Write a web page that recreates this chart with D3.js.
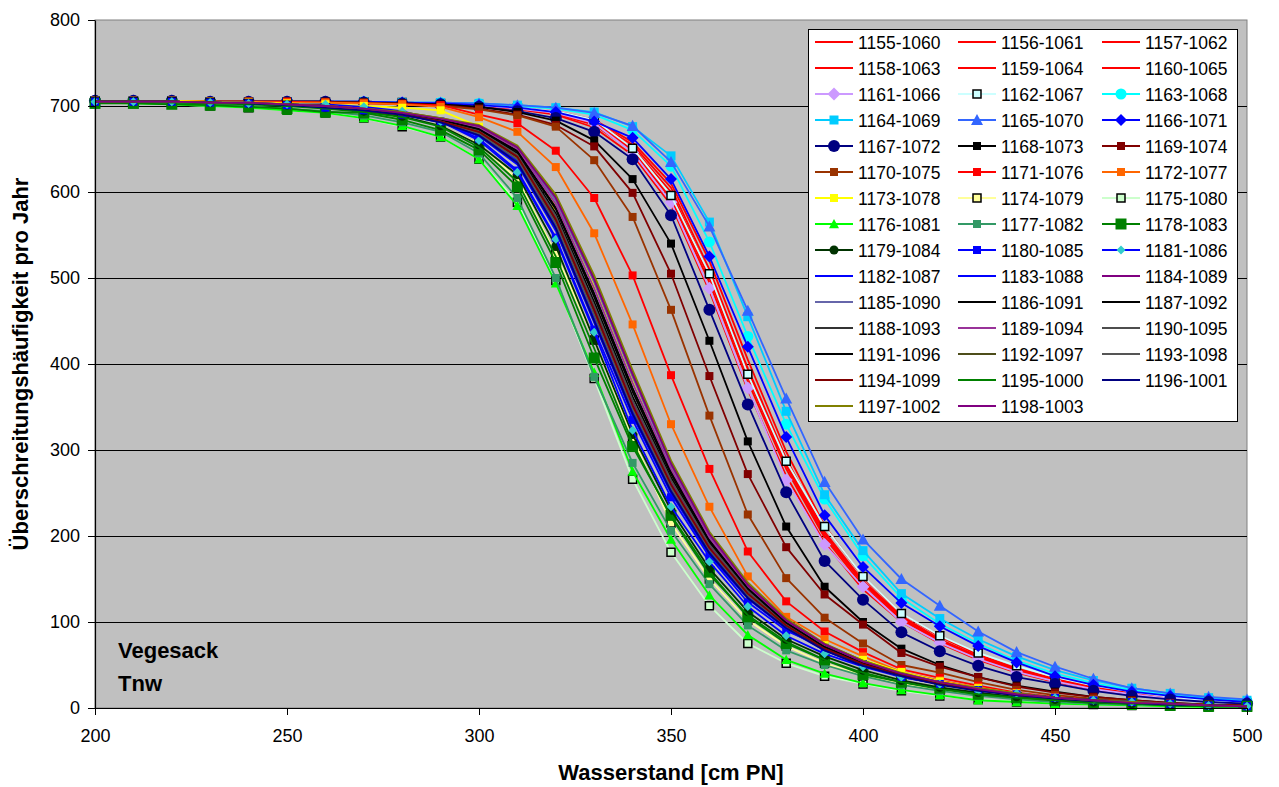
<!DOCTYPE html>
<html>
<head>
<meta charset="utf-8">
<script src="https://cdn.jsdelivr.net/npm/d3@7"></script>
<style>
  body { margin: 0; background: #fff; }
  svg text { font-family: "Liberation Sans", Arial, sans-serif; }
</style>
</head>
<body>
<svg id="chart" width="1279" height="787"></svg>
<script>
// x categories (Wasserstand, cm PN)
const xValues = [200, 210, 220, 230, 240, 250, 260, 270, 280, 290, 300, 310, 320, 330, 340, 350,
  360, 370, 380, 390, 400, 410, 420, 430, 440, 450, 460, 470, 480, 490, 500];
const xTicks = [200, 250, 300, 350, 400, 450, 500];
const yTicks = [0, 100, 200, 300, 400, 500, 600, 700, 800];

const seriesNames = [
  '1155-1060', '1156-1061', '1157-1062', '1158-1063', '1159-1064', '1160-1065',
  '1161-1066', '1162-1067', '1163-1068', '1164-1069', '1165-1070', '1166-1071',
  '1167-1072', '1168-1073', '1169-1074', '1170-1075', '1171-1076', '1172-1077',
  '1173-1078', '1174-1079', '1175-1080', '1176-1081', '1177-1082', '1178-1083',
  '1179-1084', '1180-1085', '1181-1086', '1182-1087', '1183-1088', '1184-1089',
  '1185-1090', '1186-1091', '1187-1092', '1188-1093', '1189-1094', '1190-1095',
  '1191-1096', '1192-1097', '1193-1098', '1194-1099', '1195-1000', '1196-1001',
  '1197-1002', '1198-1003'];

// Überschreitungshäufigkeit pro Jahr, one array per series
const s1155 = [706,706,706,705,705,705,705,705,704,703,701,698,693,682,655,605,510,395,290,205,148,107,80,60,45,33,24,17,12,9,6];
const s1156 = [706,706,706,705,705,705,705,705,704,703,700,697,691,678,648,592,495,380,278,198,142,103,77,58,43,31,23,16,11,8,5];
const s1157 = [706,706,706,705,705,705,705,705,704,703,701,698,693,681,652,600,505,392,285,203,146,106,79,60,44,32,24,17,12,9,6];
const s1158 = [706,706,706,705,705,705,705,705,704,703,700,696,690,675,643,585,485,370,270,192,138,100,75,56,41,30,22,16,11,8,5];
const s1159 = [706,706,706,705,705,705,705,705,704,703,701,698,694,684,658,610,520,405,298,212,152,110,83,62,46,34,25,18,13,9,6];
const s1160 = [706,706,706,705,705,705,705,705,704,703,700,697,692,679,650,595,500,385,282,200,145,104,78,59,44,32,23,17,12,8,6];
const s1161 = [706,706,706,705,705,705,705,705,704,703,701,697,692,680,646,588,488,372,265,190,141,100,76,57,42,31,22,16,11,8,5];
const s1162 = [706,706,706,705,705,705,705,705,704,703,701,698,694,684,651,596,505,388,287,211,153,110,84,64,49,36,26,19,13,9,6];
const s1163 = [706,706,706,705,705,705,705,705,704,704,703,700,697,690,672,630,542,432,330,243,177,128,98,75,55,40,29,21,15,11,8];
const s1164 = [706,706,706,705,705,705,705,705,704,704,703,701,698,693,676,642,565,455,345,248,183,133,104,80,60,44,32,23,17,12,9];
const s1165 = [706,706,706,705,705,705,705,705,704,704,703,701,698,692,677,635,560,462,360,263,196,150,119,89,65,48,34,23,17,13,10];
const s1166 = [706,706,706,705,705,705,705,705,704,703,701,698,693,682,663,615,525,420,315,224,164,122,95,72,53,37,27,19,14,10,7];
const s1167 = [706,706,706,705,705,705,705,704,703,702,699,694,686,670,638,573,463,353,251,171,126,88,66,49,36,28,20,14,10,7,5];
const s1168 = [706,706,706,705,705,705,705,704,703,702,699,693,683,660,615,540,427,310,211,141,100,69,50,36,26,19,13,9,6,4,3];
const s1169 = [706,706,706,705,705,705,705,704,703,701,697,690,678,653,599,505,386,272,187,132,97,64,48,36,25,18,13,9,6,4,3];
const s1170 = [706,706,706,705,705,705,704,704,702,700,696,689,676,637,571,463,340,225,151,105,75,50,41,30,21,15,11,8,5,4,2];
const s1171 = [706,706,706,705,705,705,704,703,702,701,690,680,648,593,503,387,278,182,124,89,65,45,35,26,18,13,9,7,5,3,2];
const s1172 = [706,706,706,705,705,704,704,703,702,699,687,670,629,552,446,330,234,153,106,80,60,42,32,24,17,12,9,6,4,3,2];
const s1173 = [706,706,706,705,704,703,702,700,698,695,676,642,584,492,381,273,191,129,95,73,56,42,31,23,17,12,9,6,4,3,2];
const s1174 = [705,705,705,704,703,701,698,694,687,677,656,615,528,428,314,215,150,102,72,52,38,28,21,15,11,8,6,4,3,2,1];
const s1175 = [704,703,702,700,698,695,692,686,676,664,638,588,497,383,266,181,119,75,52,37,28,20,14,10,7,5,4,3,2,1,1];
const s1176 = [704,703,702,700,698,695,692,686,677,664,638,584,494,390,275,196,131,85,56,40,29,21,15,9,7,5,4,3,2,1,1];
const s1177 = [705,704,703,702,700,697,694,689,681,670,645,593,500,385,285,206,144,96,67,50,37,27,20,14,10,7,5,4,3,2,1];
const s1178 = [703,703,702,701,699,697,693,692,684,672,649,606,518,407,304,224,158,106,75,56,39,30,23,16,12,9,6,5,3,2,2];
const s1179 = [705,705,705,704,703,701,698,694,688,677,655,620,537,428,318,230,162,112,80,60,44,32,24,18,13,10,7,5,4,3,2];
const s1180 = [705,705,705,704,703,701,698,695,690,682,662,625,547,440,335,245,176,123,90,70,51,36,28,21,16,12,9,7,5,3,2];
const s1181 = [705,705,705,704,703,702,702,699,694,682,660,623,545,437,323,234,170,118,84,63,48,36,28,20,17,12,9,7,5,3,2];
const s1182 = [705,705,705,704,703,701,698,695,690,681,665,632,555,448,340,250,178,127,92,67,49,37,28,21,15,11,8,6,4,3,2];
const s1183 = [705,705,705,704,703,701,699,695,690,682,667,636,560,453,345,254,182,130,94,68,50,37,28,21,15,11,8,6,4,3,2];
const s1184 = [705,705,705,704,703,702,699,696,691,683,670,642,570,465,355,262,188,135,97,70,52,38,29,22,16,12,9,6,5,3,2];
const s1185 = [705,705,705,704,704,702,700,697,692,685,676,650,590,495,385,282,200,142,101,73,54,40,30,22,16,12,9,6,5,3,2];
const s1186 = [705,705,705,704,703,702,699,696,691,683,672,645,575,472,362,268,192,137,98,71,52,39,29,22,16,12,9,6,5,3,2];
const s1187 = [705,705,705,704,703,702,700,696,692,684,674,648,582,482,372,275,196,140,100,72,53,39,29,22,16,12,9,6,5,3,2];
const s1188 = [705,705,705,704,703,701,699,695,690,682,669,640,566,460,350,258,185,132,95,69,51,38,28,21,15,11,8,6,4,3,2];
const s1189 = [705,705,705,704,704,702,700,697,692,685,675,650,586,488,378,278,198,141,100,72,53,39,29,22,16,12,9,6,5,3,2];
const s1190 = [705,705,705,704,703,702,699,696,691,683,671,643,572,468,358,265,190,136,97,70,52,38,29,22,16,12,9,6,5,3,2];
const s1191 = [705,705,705,704,703,702,700,696,691,684,673,647,580,478,368,272,194,139,99,71,52,39,29,22,16,12,9,6,5,3,2];
const s1192 = [705,705,705,704,704,702,700,697,693,686,677,652,595,500,390,286,203,144,103,74,55,40,30,23,17,12,9,7,5,3,2];
const s1193 = [705,705,705,704,703,701,699,695,690,682,668,638,563,457,348,256,184,131,94,68,50,37,28,21,15,11,8,6,4,3,2];
const s1194 = [705,705,705,704,703,701,699,695,690,682,670,641,568,463,352,260,186,133,96,69,51,38,28,21,15,11,8,6,4,3,2];
const s1195 = [705,705,704,703,702,700,697,693,687,676,652,612,525,418,308,222,155,108,77,56,41,30,22,16,12,9,6,5,3,2,2];
const s1196 = [705,705,705,704,703,701,698,695,690,681,666,634,558,450,342,252,180,128,93,67,49,37,27,20,15,11,8,6,4,3,2];
const s1197 = [705,705,705,704,704,702,700,697,693,686,678,654,597,503,393,288,205,146,104,75,55,41,30,23,17,12,9,7,5,3,2];
const s1198 = [705,705,705,704,704,702,700,697,692,685,677,652,593,498,388,284,202,143,102,74,54,40,30,22,16,12,9,6,5,3,2];

const seriesValues = [s1155, s1156, s1157, s1158, s1159, s1160, s1161, s1162, s1163, s1164, s1165,
  s1166, s1167, s1168, s1169, s1170, s1171, s1172, s1173, s1174, s1175, s1176, s1177, s1178, s1179,
  s1180, s1181, s1182, s1183, s1184, s1185, s1186, s1187, s1188, s1189, s1190, s1191, s1192, s1193,
  s1194, s1195, s1196, s1197, s1198];

// line colour, marker shape, marker fill, marker edge, marker size
const seriesStyles = [
  { stroke: '#FF0000' }, { stroke: '#FF0000' }, { stroke: '#FF0000' },
  { stroke: '#FF0000' }, { stroke: '#FF0000' }, { stroke: '#FF0000' },
  { stroke: '#CC99FF', marker: 'diamond', fill: '#CC99FF', size: 13 },
  { stroke: '#CCFFFF', marker: 'square', fill: '#CCFFFF', edge: '#000000', size: 8 },
  { stroke: '#00FFFF', marker: 'circle', fill: '#00FFFF', size: 11 },
  { stroke: '#00CCFF', marker: 'square', fill: '#00CCFF', size: 9 },
  { stroke: '#3366FF', marker: 'triangle', fill: '#3366FF', size: 12 },
  { stroke: '#0000FF', marker: 'diamond', fill: '#0000FF', size: 12 },
  { stroke: '#000080', marker: 'circle', fill: '#000080', size: 12 },
  { stroke: '#000000', marker: 'square', fill: '#000000', size: 8 },
  { stroke: '#800000', marker: 'square', fill: '#800000', size: 8 },
  { stroke: '#993300', marker: 'square', fill: '#993300', size: 8 },
  { stroke: '#FF0000', marker: 'square', fill: '#FF0000', size: 8 },
  { stroke: '#FF6600', marker: 'square', fill: '#FF6600', size: 8 },
  { stroke: '#FFFF00', marker: 'square', fill: '#FFFF00', size: 8 },
  { stroke: '#FFFF99', marker: 'square', fill: '#FFFF99', edge: '#000000', size: 8 },
  { stroke: '#CCFFCC', marker: 'square', fill: '#CCFFCC', edge: '#000000', size: 8 },
  { stroke: '#00FF00', marker: 'triangle', fill: '#00FF00', size: 10 },
  { stroke: '#339966', marker: 'square', fill: '#339966', size: 8 },
  { stroke: '#008000', marker: 'square', fill: '#008000', size: 11 },
  { stroke: '#003300', marker: 'circle', fill: '#003300', size: 9 },
  { stroke: '#0000FF', marker: 'square', fill: '#0000FF', size: 8 },
  { stroke: '#0000FF', marker: 'diamond', fill: '#33CCCC', size: 9 },
  { stroke: '#0000FF' }, { stroke: '#0000FF' }, { stroke: '#800080' },
  { stroke: '#6666AA' }, { stroke: '#000000' }, { stroke: '#000000' },
  { stroke: '#333333' }, { stroke: '#993399' }, { stroke: '#4D4D4D' },
  { stroke: '#000000' }, { stroke: '#4D4D1A' }, { stroke: '#555555' },
  { stroke: '#800000' }, { stroke: '#008000' }, { stroke: '#000080' },
  { stroke: '#808000' }, { stroke: '#800080' }
];

const svg = d3.select('#chart');

// plot area bounds
const plotLeft = 95, plotRight = 1247, plotTop = 20, plotBottom = 708;

const x = d3.scaleLinear().domain([200, 500]).range([plotLeft, plotRight]);
const y = d3.scaleLinear().domain([0, 800]).range([plotBottom, plotTop]);

// grey plot background
svg.append('rect')
  .attr('x', plotLeft).attr('y', plotTop)
  .attr('width', plotRight - plotLeft).attr('height', plotBottom - plotTop)
  .attr('fill', '#C0C0C0')
  .attr('stroke', '#808080')
  .attr('stroke-width', 1);

// horizontal gridlines
svg.append('g').selectAll('line')
  .data(yTicks.filter(d => d > 0 && d < 800))
  .join('line')
    .attr('x1', plotLeft).attr('x2', plotRight)
    .attr('y1', d => Math.round(y(d)) + 0.5).attr('y2', d => Math.round(y(d)) + 0.5)
    .attr('stroke', '#000')
    .attr('stroke-width', 1);

// marker shapes (Excel style)
const markerPath = (type, s) => {
  const h = s / 2;
  if (type === 'square') return `M${-h},${-h}h${s}v${s}h${-s}Z`;
  if (type === 'diamond') return `M0,${-h}L${h},0L0,${h}L${-h},0Z`;
  if (type === 'triangle') return `M0,${-h}L${h},${h * 0.85}L${-h},${h * 0.85}Z`;
  return d3.symbol(d3.symbolCircle, Math.PI * h * h)();
};

const line = d3.line()
  .x((d, i) => x(xValues[i]))
  .y(d => y(d));

// series in order, later ones on top
const seriesG = svg.append('g');
seriesValues.forEach((vals, k) => {
  const st = seriesStyles[k];
  const g = seriesG.append('g');
  g.append('path')
    .attr('d', line(vals))
    .attr('fill', 'none')
    .attr('stroke', st.stroke)
    .attr('stroke-width', 1.8)
    .attr('stroke-linejoin', 'round');
  if (st.marker) {
    g.selectAll('path.m')
      .data(vals)
      .join('path')
        .attr('class', 'm')
        .attr('transform', (d, i) => `translate(${x(xValues[i])},${y(d)})`)
        .attr('d', markerPath(st.marker, st.size))
        .attr('fill', st.fill)
        .attr('stroke', st.edge || 'none')
        .attr('stroke-width', st.edge ? 1.5 : 0);
  }
});

// axes
const yAxis = svg.append('g')
  .attr('transform', `translate(${plotLeft},0)`)
  .call(d3.axisLeft(y).tickValues(yTicks).tickSize(7).tickSizeOuter(0).tickPadding(8));
const xAxis = svg.append('g')
  .attr('transform', `translate(0,${plotBottom})`)
  .call(d3.axisBottom(x).tickValues(xTicks).tickSize(7).tickSizeOuter(0).tickPadding(14));

[yAxis, xAxis].forEach(ax => {
  ax.selectAll('.domain').attr('stroke', '#000').attr('stroke-width', 1.2);
  ax.selectAll('.tick line').attr('stroke', '#000');
  ax.selectAll('.tick text')
    .attr('font-family', '"Liberation Sans", Arial, sans-serif')
    .attr('font-size', 18)
    .attr('fill', '#000');
});

// axis titles
svg.append('text')
  .attr('x', (plotLeft + plotRight) / 2)
  .attr('y', 780)
  .attr('text-anchor', 'middle')
  .attr('font-size', 22)
  .attr('font-weight', 'bold')
  .text('Wasserstand [cm PN]');

svg.append('text')
  .attr('transform', `translate(28,${(plotTop + plotBottom) / 2}) rotate(-90)`)
  .attr('text-anchor', 'middle')
  .attr('font-size', 22)
  .attr('font-weight', 'bold')
  .text('Überschreitungshäufigkeit pro Jahr');

// station label
const stationG = svg.append('g').attr('font-size', 22).attr('font-weight', 'bold');
stationG.append('text').attr('x', 118).attr('y', 658).text('Vegesack');
stationG.append('text').attr('x', 118).attr('y', 691).text('Tnw');

// legend
const legendG = svg.append('g').attr('transform', 'translate(808,29)');
legendG.append('rect')
  .attr('x', 0.5).attr('y', 0.5)
  .attr('width', 429).attr('height', 392)
  .attr('fill', '#fff')
  .attr('stroke', '#000')
  .attr('stroke-width', 1);

const colX = [7, 150, 294];
const rowY = i => 13 + i * 26;

const items = legendG.selectAll('g.item')
  .data(seriesNames)
  .join('g')
    .attr('class', 'item')
    .attr('transform', (d, i) => `translate(${colX[i % 3]},${rowY(Math.floor(i / 3))})`);

items.append('line')
  .attr('x1', 0).attr('x2', 38)
  .attr('y1', 0).attr('y2', 0)
  .attr('stroke', (d, i) => seriesStyles[i].stroke)
  .attr('stroke-width', 1.8);

items.filter((d, i) => seriesStyles[i].marker)
  .append('path')
    .attr('transform', 'translate(19,0)')
    .attr('d', (d, i, nodes) => {
      const k = seriesNames.indexOf(d);
      return markerPath(seriesStyles[k].marker, seriesStyles[k].size);
    })
    .attr('fill', d => seriesStyles[seriesNames.indexOf(d)].fill)
    .attr('stroke', d => seriesStyles[seriesNames.indexOf(d)].edge || 'none')
    .attr('stroke-width', 1.5);

items.append('text')
  .attr('x', 43)
  .attr('y', 6.5)
  .attr('font-size', 17.5)
  .attr('fill', '#000')
  .text(d => d);
</script>
</body>
</html>
